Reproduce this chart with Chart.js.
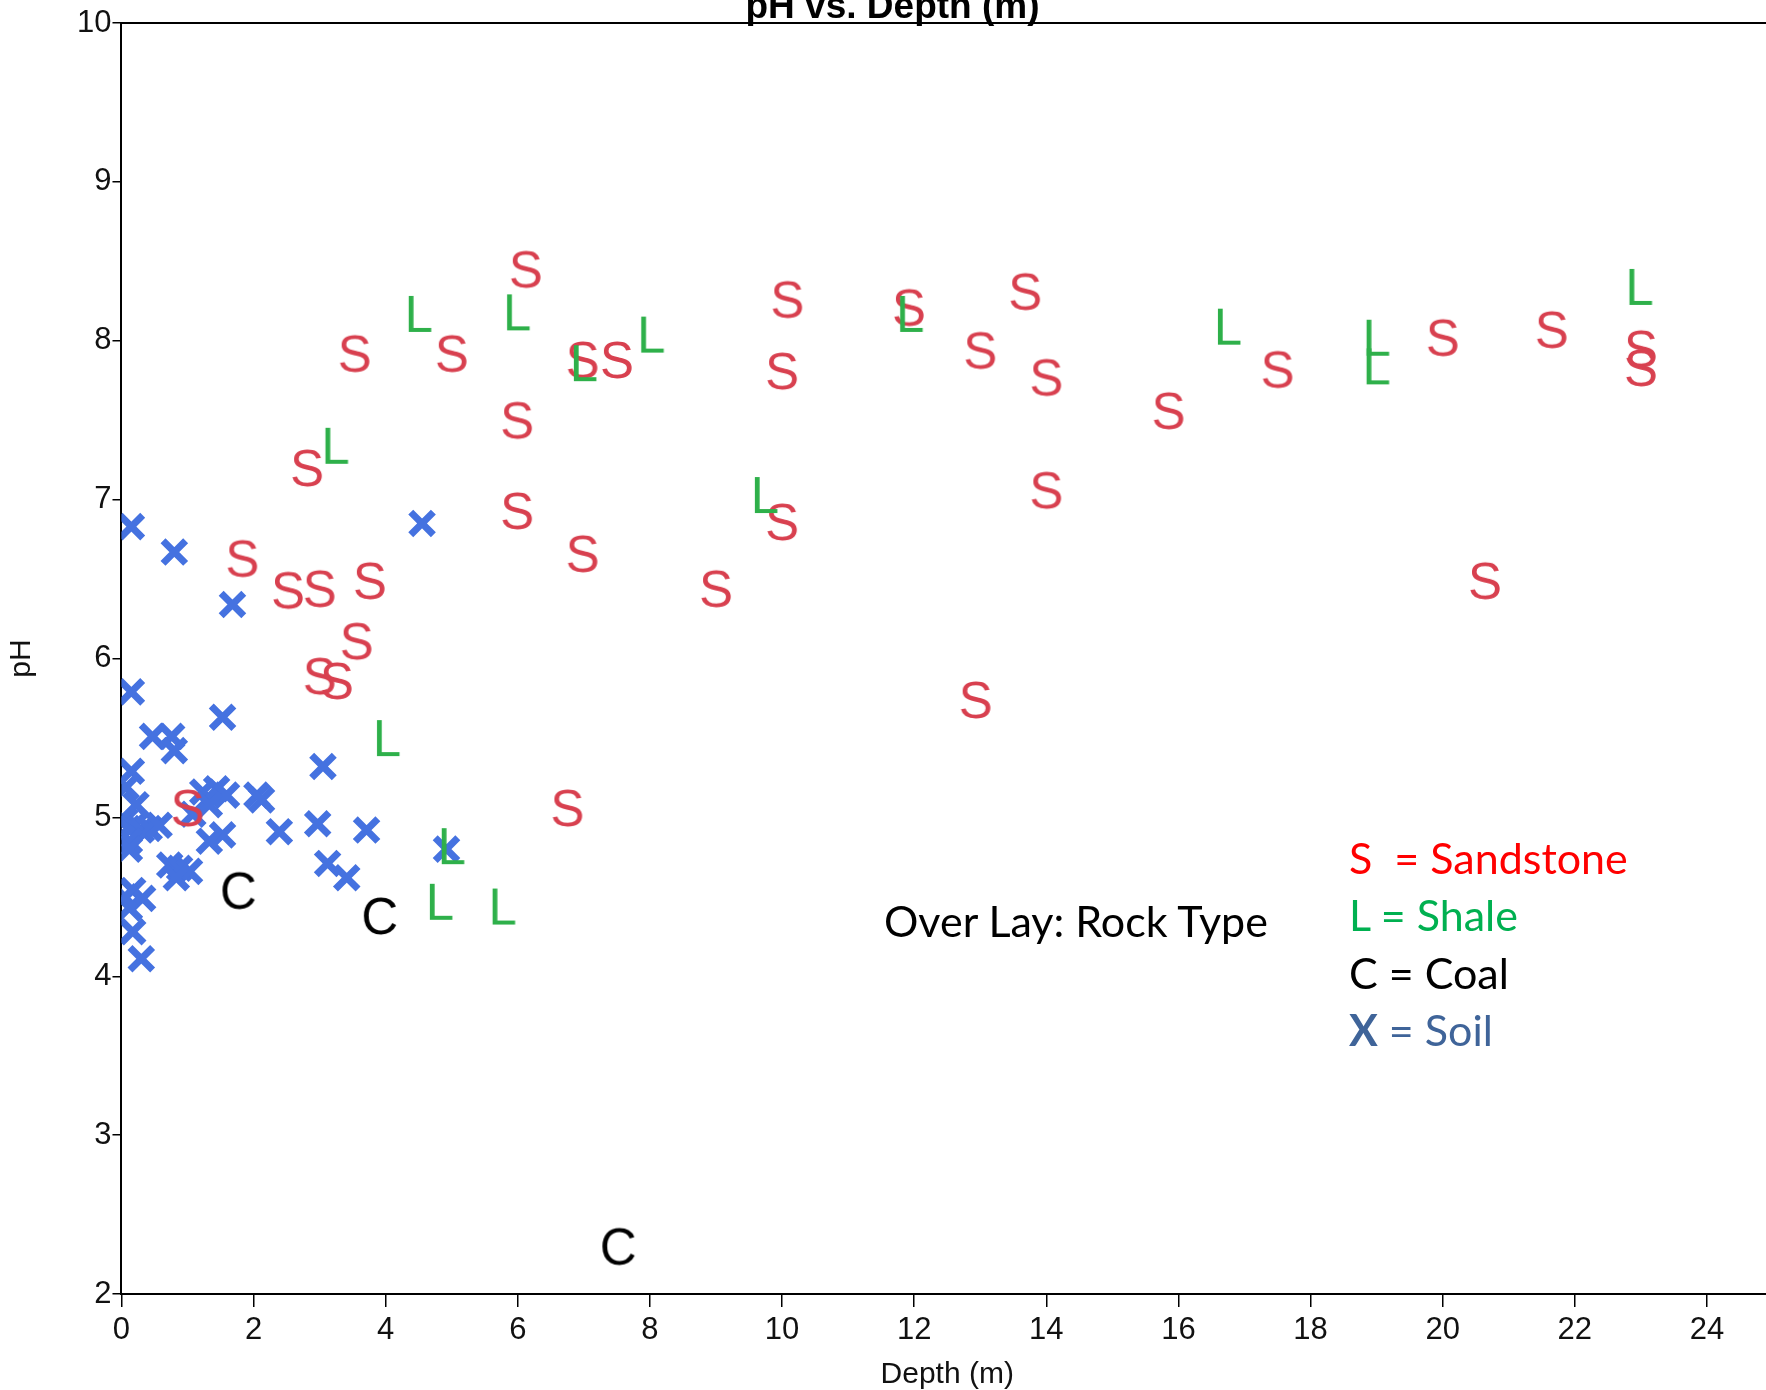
<!DOCTYPE html>
<html>
<head>
<meta charset="utf-8">
<title>pH vs. Depth (m)</title>
<script src="https://cdn.jsdelivr.net/npm/chart.js@4.4.1/dist/chart.umd.min.js"></script>
<style>
  html, body { margin: 0; padding: 0; background: #fff; overflow: hidden; }
  #wrap { position: relative; width: 1796px; height: 1390px; }
  #phChart { position: absolute; left: 0; top: 0; }
  .note { position: absolute; font-family: Lato, "Open Sans", sans-serif; font-size: 43px; line-height: 1; white-space: pre; }
</style>
</head>
<body>
<div id="wrap">
  <canvas id="phChart" width="1796" height="1390"></canvas>
  <div class="note" style="left:884px; top:899px; color:#000;">Over Lay: Rock Type</div>
  <div class="note" style="left:1349px; top:836px; color:#ff0000;">S  = Sandstone</div>
  <div class="note" style="left:1349px; top:893px; color:#00b050;">L = Shale</div>
  <div class="note" style="left:1349px; top:951px; color:#000;">C = Coal</div>
  <div class="note" style="left:1349px; top:1008px; color:#3f6499;"><b>X</b> = Soil</div>
</div>
<script>
// depth (m) and pH readings, one pair of arrays per rock type
const sandstoneDepth = [6.12, 3.53, 5.0, 10.08, 11.92, 13.68, 13.0, 14.0, 15.85, 17.5, 20.0, 21.65,
  23.0, 23.0, 6.98, 7.5, 10.0, 5.99, 2.81, 5.99, 10.0, 14.0, 6.98, 9.0, 20.64, 1.83, 2.52, 3.0,
  3.76, 3.56, 3.0, 3.26, 12.93, 6.75, 1.0];
const sandstonePH = [8.43, 7.90, 7.90, 8.24, 8.19, 8.29, 7.92, 7.75, 7.54, 7.80, 8.0, 8.05,
  7.93, 7.81, 7.86, 7.86, 7.79, 7.48, 7.18, 6.91, 6.84, 7.04, 6.64, 6.42, 6.47, 6.61, 6.41, 6.42,
  6.47, 6.09, 5.87, 5.84, 5.72, 5.04, 5.04];

const shaleDepth = [4.5, 5.99, 8.02, 7.0, 11.94, 16.75, 19.0, 19.0, 22.98, 3.24, 9.74, 4.02, 5.0, 4.82, 5.77];
const shalePH = [8.15, 8.16, 8.02, 7.84, 8.15, 8.07, 8.0, 7.82, 8.32, 7.32, 7.01, 5.48, 4.80, 4.45, 4.42];

const coalDepth = [1.77, 3.91, 7.52];
const coalPH = [4.52, 4.36, 2.28];

const soilDepth = [0.15, 0.80, 1.68, 4.55, 0.15, 1.53, 0.47, 0.76, 0.80, 3.05, 0.15, 0.07,
  0.05, 0.10, 0.20, 0.30, 0.42, 0.57, 0.22, 0.12, 0.12, 1.08, 1.23, 1.44, 1.59, 1.33, 2.05, 2.12,
  1.53, 1.33, 2.39, 2.97, 3.71, 3.12, 3.41, 4.92, 0.73, 0.88, 1.03, 0.83, 0.17, 0.32, 0.12, 0.05,
  0.17, 0.30];
const soilPH = [6.83, 6.67, 6.34, 6.85, 5.79, 5.63, 5.51, 5.51, 5.42, 5.32, 5.29, 5.19,
  4.98, 4.93, 4.95, 4.92, 4.93, 4.95, 5.08, 4.85, 4.80, 5.02, 5.16, 5.18, 5.14, 5.08, 5.14, 5.11,
  4.89, 4.85, 4.91, 4.96, 4.92, 4.71, 4.62, 4.80, 4.70, 4.68, 4.66, 4.62, 4.54, 4.49, 4.43, 4.50,
  4.28, 4.11];

const depthTicks = [0, 2, 4, 6, 8, 10, 12, 14, 16, 18, 20, 22, 24];
const phTicks = [2, 3, 4, 5, 6, 7, 8, 9, 10];

const pairs = (xs, ys) => xs.map((x, i) => ({ x: x, y: ys[i] }));

// letter markers drawn once into small canvases and used as point styles
function letterGlyph(ch, color) {
  const c = document.createElement('canvas');
  c.width = 60;
  c.height = 60;
  const g = c.getContext('2d');
  g.font = '51px "Liberation Sans", Arial, sans-serif';
  g.fillStyle = color;
  g.textAlign = 'center';
  g.textBaseline = 'alphabetic';
  g.fillText(ch, 30, 27 + 51 * 0.716 / 2);
  return c;
}

const axisFont = { family: '"Liberation Sans", Arial, sans-serif', size: 31, lineHeight: 1 };
const titleFont = { family: '"Liberation Sans", Arial, sans-serif', size: 30, lineHeight: 1 };

// clipped chart title and the top frame line
const frame = {
  id: 'frame',
  afterDraw(chart) {
    const { ctx, chartArea } = chart;
    ctx.save();
    ctx.strokeStyle = '#000';
    ctx.lineWidth = 2;
    ctx.beginPath();
    ctx.moveTo(chartArea.left, chartArea.top);
    ctx.lineTo(chart.width, chartArea.top);
    ctx.stroke();
    ctx.fillStyle = '#000';
    ctx.font = 'bold 37px "Liberation Sans", Arial, sans-serif';
    ctx.textAlign = 'center';
    ctx.textBaseline = 'alphabetic';
    ctx.fillText('pH vs. Depth (m)', (chartArea.right + 12) / 2, chartArea.top - 5);
    ctx.restore();
  }
};

const ctx = document.getElementById('phChart').getContext('2d');

new Chart(ctx, {
  type: 'scatter',
  data: {
    datasets: [
      {
        label: 'Coal',
        data: pairs(coalDepth, coalPH),
        pointStyle: letterGlyph('C', '#000000'),
        pointRadius: 3
      },
      {
        label: 'Shale',
        data: pairs(shaleDepth, shalePH),
        pointStyle: letterGlyph('L', '#2eb04a'),
        pointRadius: 3
      },
      {
        label: 'Sandstone',
        data: pairs(sandstoneDepth, sandstonePH),
        pointStyle: letterGlyph('S', '#d8404f'),
        pointRadius: 3
      },
      {
        label: 'Soil',
        data: pairs(soilDepth, soilPH),
        pointStyle: 'crossRot',
        pointRadius: 16,
        borderWidth: 7,
        borderColor: '#4572e0',
        backgroundColor: '#4572e0',
        clip: 0
      }
    ]
  },
  options: {
    responsive: false,
    animation: false,
    events: [],
    layout: { padding: { top: 20, right: 10, bottom: 0, left: 0 } },
    plugins: {
      legend: { display: false },
      tooltip: { enabled: false }
    },
    scales: {
      x: {
        type: 'linear',
        min: 0,
        max: 25,
        afterBuildTicks: axis => { axis.ticks = depthTicks.map(v => ({ value: v })); },
        ticks: { color: '#111', font: axisFont, padding: 8 },
        grid: { drawOnChartArea: false, tickLength: 13, color: '#000', lineWidth: 1.5 },
        border: { display: true, color: '#000', width: 2 },
        title: { display: true, text: 'Depth (m)', color: '#111', font: titleFont, padding: { top: 6, bottom: 0 } }
      },
      y: {
        type: 'linear',
        min: 2,
        max: 10,
        afterBuildTicks: axis => { axis.ticks = phTicks.map(v => ({ value: v })); },
        ticks: { color: '#111', font: axisFont, padding: 1 },
        grid: { drawOnChartArea: false, tickLength: 9, color: '#000', lineWidth: 1.5 },
        border: { display: true, color: '#000', width: 2 },
        title: { display: true, text: 'pH', color: '#111', font: titleFont, padding: { top: 7, bottom: 39 } }
      }
    }
  },
  plugins: [frame]
});
</script>
</body>
</html>
